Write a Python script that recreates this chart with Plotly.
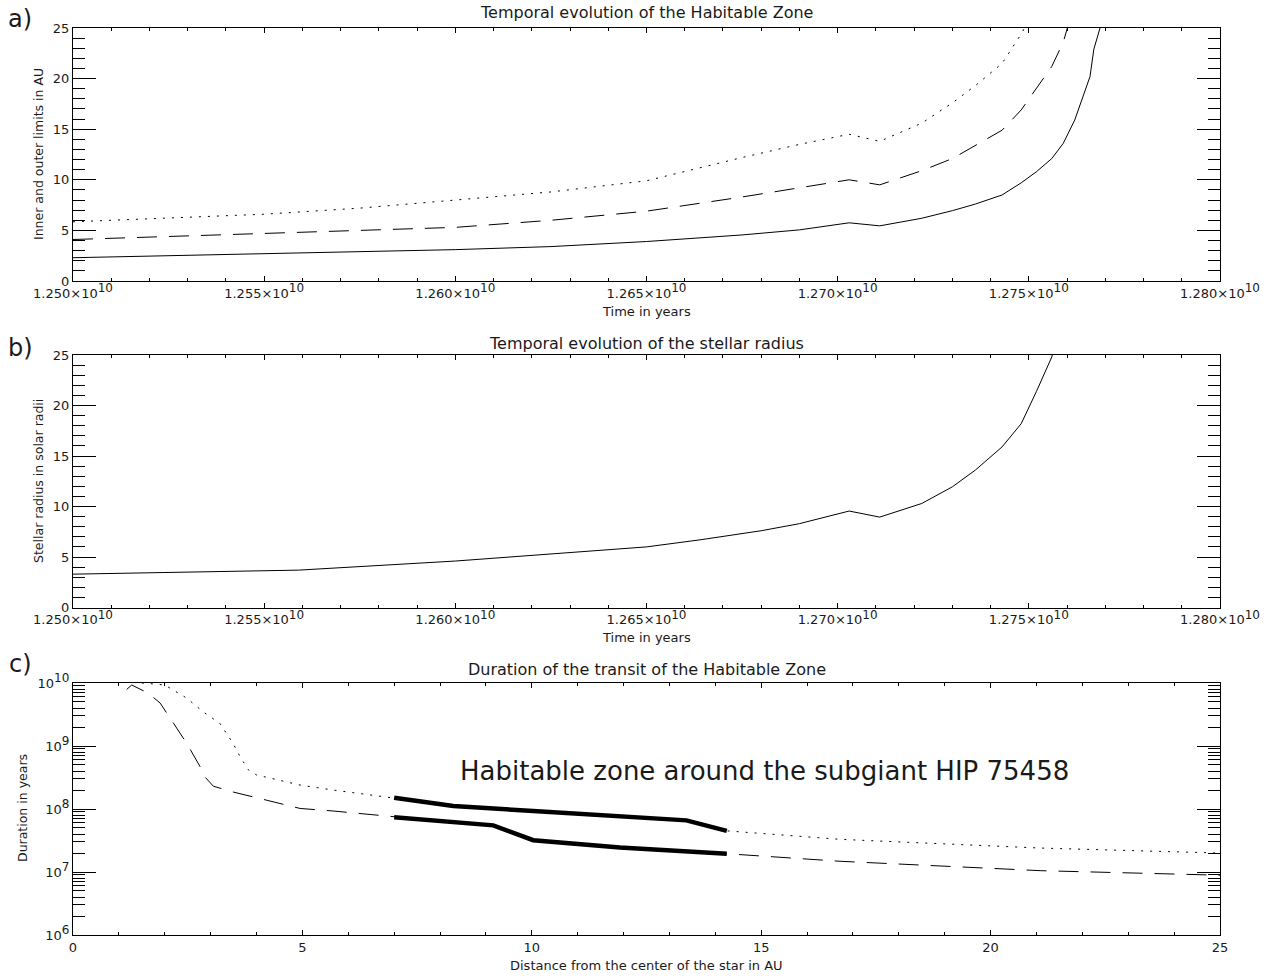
import plotly.graph_objects as go

W, H = 1278, 978

# ---------------- Data ----------------
# Panel a: temporal evolution of the habitable zone (time in units of 1e10 yr)
time_a = [1.2500, 1.2523, 1.2550, 1.2575, 1.2600, 1.2625, 1.2650, 1.2675, 1.2690,
          1.2703, 1.2711, 1.2722, 1.2730, 1.2736, 1.2743, 1.2748, 1.2752, 1.2756,
          1.2759, 1.2762, 1.2764, 1.2766, 1.2767, 1.2769]
hz_inner = [2.3, 2.5, 2.7, 2.95, 3.1, 3.4, 3.9, 4.55, 5.05, 5.75, 5.45, 6.2, 6.95,
            7.6, 8.5, 9.7, 10.8, 12.1, 13.6, 15.9, 18.1, 20.2, 22.9, 25.5]
hz_middle = [4.1, 4.4, 4.7, 5.0, 5.3, 6.0, 6.9, 8.3, 9.2, 10.0, 9.5, 10.9, 12.1,
             13.4, 14.9, 16.9, 19.0, 21.2, 23.6, 27.5, 31.5, 35.0, 40.0, 44.0]
hz_outer = [5.85, 6.2, 6.6, 7.2, 8.0, 8.8, 9.9, 12.2, 13.5, 14.5, 13.8, 15.6, 17.6,
            19.3, 21.5, 24.4, 27.2, 30.5, 34.0, 39.0, 45.0, 50.0, 57.0, 64.0]

# Panel b: stellar radius (solar radii)
time_b = [1.2500, 1.2559, 1.2600, 1.2622, 1.2650, 1.2664, 1.2680, 1.2690, 1.2703,
          1.2711, 1.2722, 1.2730, 1.2736, 1.2743, 1.2748, 1.2752, 1.2756, 1.2758]
radius = [3.3, 3.7, 4.6, 5.2, 6.0, 6.7, 7.6, 8.3, 9.55, 8.95, 10.3, 11.95, 13.6,
          15.9, 18.2, 21.4, 24.8, 27.5]

# Panel c: duration of the transit of the habitable zone
dist_outer = [1.5, 2.0, 2.48, 2.84, 3.2, 3.49, 3.64, 3.82, 4.0, 4.44, 4.95, 5.67,
              6.4, 7.0, 7.56, 8.29, 10.03, 11.92, 13.37, 14.25, 16.72, 21.08, 25.0]
dur_outer = [1.0e10, 9.3e9, 5.75e9, 3.47e9, 2.29e9, 1.1e9, 6.8e8, 4.2e8, 3.47e8,
             2.9e8, 2.4e8, 2.0e8, 1.7e8, 1.51e8, 1.32e8, 1.12e8, 9.3e7, 7.6e7,
             6.6e7, 4.5e7, 3.3e7, 2.4e7, 2.0e7]
dist_inner = [1.17, 1.28, 1.64, 1.9, 2.19, 2.48, 2.77, 2.88, 3.06, 3.49, 4.22, 4.95,
              5.67, 6.4, 7.0, 7.56, 9.16, 10.03, 11.92, 14.25, 16.72, 21.08, 25.0]
dur_inner = [7.9e9, 9.3e9, 6.9e9, 4.8e9, 2.3e9, 1.1e9, 4.7e8, 3.2e8, 2.3e8, 1.86e8,
             1.38e8, 1.02e8, 9.3e7, 8.3e7, 7.4e7, 6.9e7, 5.5e7, 3.2e7, 2.45e7,
             1.95e7, 1.48e7, 1.05e7, 8.9e6]
hz_now = [7.0, 14.25]  # current habitable zone range (AU)

time_ticks = [1.250, 1.255, 1.260, 1.265, 1.270, 1.275, 1.280]
lin_ticks = [0, 5, 10, 15, 20, 25]
dist_ticks = [0, 5, 10, 15, 20, 25]
log_decades = [6, 7, 8, 9, 10]

# ---------------- Figure ----------------
FONT = "DejaVu Sans"
INK = "#000000"
TXT = "#1a1a1a"
DASH = "20px,12px"
DOT = "2px,7px"
SUP = '<sup><span style="font-size:12px">%s</span></sup>'

def px2x(p):
    return p / W

def py2y(p):
    return 1 - p / H

fig = go.Figure()

# panel a
for vals, dash in [(hz_inner, "solid"), (hz_middle, DASH), (hz_outer, DOT)]:
    fig.add_trace(go.Scatter(x=[t * 1e10 for t in time_a], y=vals, mode="lines",
                             line=dict(color=INK, width=1, dash=dash),
                             xaxis="x", yaxis="y", showlegend=False))
# panel b
fig.add_trace(go.Scatter(x=[t * 1e10 for t in time_b], y=radius, mode="lines",
                         line=dict(color=INK, width=1),
                         xaxis="x2", yaxis="y2", showlegend=False))
# panel c thin lines
fig.add_trace(go.Scatter(x=dist_outer, y=dur_outer, mode="lines",
                         line=dict(color=INK, width=1, dash=DOT),
                         xaxis="x3", yaxis="y3", showlegend=False))
fig.add_trace(go.Scatter(x=dist_inner, y=dur_inner, mode="lines",
                         line=dict(color=INK, width=1, dash=DASH),
                         xaxis="x3", yaxis="y3", showlegend=False))
# panel c thick: current habitable zone
for dx, dy in [(dist_outer, dur_outer), (dist_inner, dur_inner)]:
    sx = [d for d in dx if hz_now[0] <= d <= hz_now[1]]
    sy = [v for d, v in zip(dx, dy) if hz_now[0] <= d <= hz_now[1]]
    fig.add_trace(go.Scatter(x=sx, y=sy, mode="lines",
                             line=dict(color=INK, width=4.5),
                             xaxis="x3", yaxis="y3", showlegend=False))

xdom = [px2x(73), px2x(1220)]
tickfont = dict(family=FONT, size=13, color=TXT)

def xaxis_time(anchor):
    return dict(domain=xdom, anchor=anchor, range=[1.25e10, 1.28e10],
                tickmode="array", tickvals=[t * 1e10 for t in time_ticks],
                ticktext=[("%.3f\u00d710" % t) + SUP % "10" for t in time_ticks],
                ticks="inside", ticklen=5, tickcolor=INK, tickwidth=1,
                minor=dict(ticks="inside", ticklen=3, dtick=1e7, tickcolor=INK),
                showline=True, linecolor=INK, linewidth=1, mirror="ticks",
                showgrid=False, zeroline=False, tickfont=tickfont, automargin=False)

def yaxis_lin(anchor, dom):
    return dict(domain=dom, anchor=anchor, range=[0, 25], tickmode="array",
                tickvals=lin_ticks, ticktext=[str(v) for v in lin_ticks],
                ticks="inside", ticklen=23, tickcolor=INK, tickwidth=1,
                minor=dict(ticks="inside", ticklen=12, dtick=1, tickcolor=INK),
                showline=True, linecolor=INK, linewidth=1, mirror="ticks",
                showgrid=False, zeroline=False, tickfont=tickfont, automargin=False)

minor_log = [k * 10 ** d for d in log_decades[:-1] for k in range(2, 10)]

fig.update_layout(
    width=W, height=H, margin=dict(l=0, r=0, t=0, b=0, pad=0),
    paper_bgcolor="white", plot_bgcolor="white", showlegend=False,
    font=dict(family=FONT, color=TXT),
    xaxis=xaxis_time("y"),
    yaxis=yaxis_lin("x", [py2y(281), py2y(28)]),
    xaxis2=xaxis_time("y2"),
    yaxis2=yaxis_lin("x2", [py2y(607.5), py2y(355)]),
    xaxis3=dict(domain=xdom, anchor="y3", range=[0, 25], tickmode="array",
                tickvals=dist_ticks, ticktext=[str(v) for v in dist_ticks],
                ticks="inside", ticklen=5, tickcolor=INK,
                minor=dict(ticks="inside", ticklen=3, dtick=1, tickcolor=INK),
                showline=True, linecolor=INK, linewidth=1, mirror="ticks",
                showgrid=False, zeroline=False, tickfont=tickfont, automargin=False),
    yaxis3=dict(domain=[py2y(935), py2y(683)], anchor="x3", type="log",
                range=[6, 10], tickmode="array",
                tickvals=[10 ** d for d in log_decades],
                ticktext=["10" + SUP % d for d in log_decades],
                ticks="inside", ticklen=23, tickcolor=INK,
                minor=dict(ticks="inside", ticklen=12, tickmode="array",
                           tickvals=minor_log, tickcolor=INK),
                showline=True, linecolor=INK, linewidth=1, mirror="ticks",
                showgrid=False, zeroline=False, tickfont=tickfont, automargin=False),
)

ann = []
def text(s, x, y, size, xanchor="center", angle=0):
    ann.append(dict(text=s, x=px2x(x), y=py2y(y), xref="paper", yref="paper",
                    showarrow=False, xanchor=xanchor, yanchor="middle",
                    textangle=angle, font=dict(family=FONT, size=size, color=TXT)))

cx = (73 + 1220) / 2
text("Temporal evolution of the Habitable Zone", cx, 12, 16)
text("Temporal evolution of the stellar radius", cx, 343, 16)
text("Duration of the transit of the Habitable Zone", cx, 669, 16)
text("Time in years", cx, 311, 13)
text("Time in years", cx, 637, 13)
text("Distance from the center of the star in AU", cx, 965, 13)
text("Inner and outer limits in AU", 38, 154, 12.5, angle=-90)
text("Stellar radius in solar radii", 38, 481, 12.5, angle=-90)
text("Duration in years", 22, 808, 12.5, angle=-90)
text("a)", 20, 19, 24)
text("b)", 20, 348, 24)
text("c)", 20, 664, 24)
text("Habitable zone around the subgiant HIP 75458", 458, 771, 26, xanchor="left")
fig.update_layout(annotations=ann)

# remove the default page margin so the figure fills the window exactly
fig.write_html("out.html",
               config={"displayModeBar": False},
               post_script="document.body.style.margin='0px';"
                           "document.body.style.overflow='hidden';")
